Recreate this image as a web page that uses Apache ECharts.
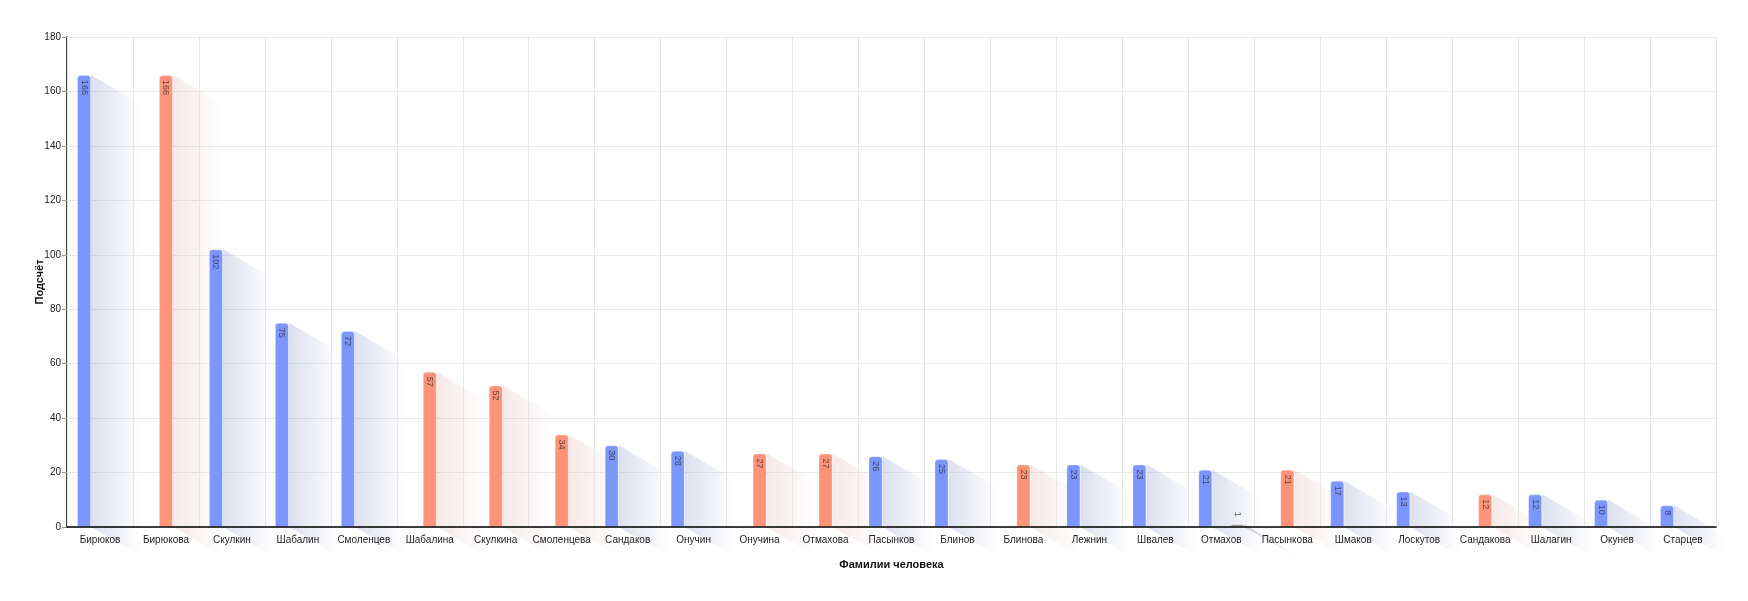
<!DOCTYPE html>
<html>
<head>
<meta charset="utf-8">
<script src="https://cdn.jsdelivr.net/npm/echarts@6/dist/echarts.min.js"></script>
<style>
html,body{margin:0;padding:0;background:#fff;}
#chart{width:1748px;height:601px;}
</style>
</head>
<body>
<div id="chart"></div>
<script>
const categories = ['Бирюков','Бирюкова','Скулкин','Шабалин','Смоленцев','Шабалина','Скулкина','Смоленцева','Сандаков','Онучин','Онучина','Отмахова','Пасынков','Блинов','Блинова','Лежнин','Швалев','Отмахов','Пасынкова','Шмаков','Лоскутов','Сандакова','Шалагин','Окунев','Старцев'];
const maleValues   = [166,null,102,75,72,null,null,null,30,28,null,null,26,25,null,23,23,21,null,17,13,null,12,10,8];
const femaleValues = [null,166,null,null,null,57,52,34,null,null,27,27,null,null,23,null,null,null,21,null,null,12,null,null,null];
const otherValues  = [null,null,null,null,null,null,null,null,null,null,null,null,null,null,null,null,null,1,null,null,null,null,null,null,null];
const yTicks = {min:0, max:180, interval:20};
const xAxisTitle = 'Фамилии человека';
const yAxisTitle = 'Подсчёт';

const FONT = '"Liberation Sans", Arial, Helvetica, sans-serif';
const BAR_W = 14;
const STEP = 16;
const SDX = 50, SDY = 29;

function shadowSeries(values, offset, rgb, alpha) {
  const data = [];
  values.forEach((v, i) => { if (v !== null) data.push([i, v]); });
  return {
    type: 'custom',
    z: 1,
    silent: true,
    clip: false,
    data: data,
    encode: {x: 0, y: 1},
    renderItem: function (params, api) {
      const idx = api.value(0);
      const top = api.coord([idx, api.value(1)]);
      const base = api.coord([idx, 0]);
      const xr = top[0] + offset + BAR_W / 2;
      return {
        type: 'polygon',
        shape: {points: [[xr, top[1]], [xr + SDX, top[1] + SDY], [xr + SDX, base[1] + SDY], [xr, base[1]]]},
        style: {
          fill: {
            type: 'linear', x: 0, y: 0, x2: 1, y2: 0,
            colorStops: [
              {offset: 0, color: 'rgba(' + rgb + ',' + alpha + ')'},
              {offset: 1, color: 'rgba(' + rgb + ',0)'}
            ]
          }
        }
      };
    }
  };
}

const labelCommon = {
  show: true,
  position: 'insideTop',
  rotate: -90,
  align: 'left',
  verticalAlign: 'middle',
  distance: 5,
  fontSize: 9,
  fontFamily: FONT,
  color: 'rgba(40,40,40,0.75)'
};

function barSeries(name, values, color, border) {
  return {
    name: name,
    type: 'bar',
    z: 3,
    barWidth: BAR_W,
    barGap: '14%',
    data: values.map(v => v === null ? '-' : v),
    itemStyle: {color: color, borderRadius: [3, 3, 0, 0], borderColor: border, borderWidth: 1},
    label: labelCommon
  };
}

const otherSeries = barSeries('Неизвестно', otherValues, '#9a9a9a', 'rgba(255,255,255,0.25)');
otherSeries.label = Object.assign({}, labelCommon, {position: 'top', distance: 10, align: 'center'});

const chart = echarts.init(document.getElementById('chart'), null, {renderer: 'canvas'});
chart.setOption({
  animation: false,
  backgroundColor: '#ffffff',
  grid: {left: 67, right: 32, top: 37, bottom: 74},
  xAxis: {
    type: 'category',
    data: categories,
    name: xAxisTitle,
    nameLocation: 'middle',
    nameGap: 32,
    nameTextStyle: {fontWeight: 'bold', fontSize: 11, color: '#111', fontFamily: FONT},
    axisLine: {lineStyle: {color: '#000', width: 1.5}},
    axisTick: {show: false},
    axisLabel: {fontSize: 10, color: '#222', fontFamily: FONT, margin: 8, interval: 0},
    splitLine: {show: true, lineStyle: {color: '#e6e6e6'}},
    z: 4
  },
  yAxis: {
    type: 'value',
    min: yTicks.min, max: yTicks.max, interval: yTicks.interval,
    name: yAxisTitle,
    nameLocation: 'middle',
    nameGap: 22,
    nameMoveOverlap: false,
    nameTextStyle: {fontWeight: 'bold', fontSize: 11, color: '#111', fontFamily: FONT},
    axisLine: {show: true, lineStyle: {color: '#000', width: 1.5}},
    axisTick: {show: true, length: 5, lineStyle: {color: '#999'}},
    axisLabel: {fontSize: 10, color: '#222', fontFamily: FONT, margin: 6},
    splitLine: {show: true, lineStyle: {color: '#e9e9e9'}}
  },
  series: [
    shadowSeries(maleValues, -STEP, '80,100,175', 0.2),
    shadowSeries(femaleValues, 0, '190,110,90', 0.15),
    shadowSeries(otherValues, STEP, '80,80,80', 0.25),
    barSeries('Мужчины', maleValues, '#7c96ff', 'rgba(255,255,255,0.25)'),
    barSeries('Женщины', femaleValues, '#ff937a', 'rgba(255,255,255,0.25)'),
    otherSeries
  ]
});
</script>
</body>
</html>
